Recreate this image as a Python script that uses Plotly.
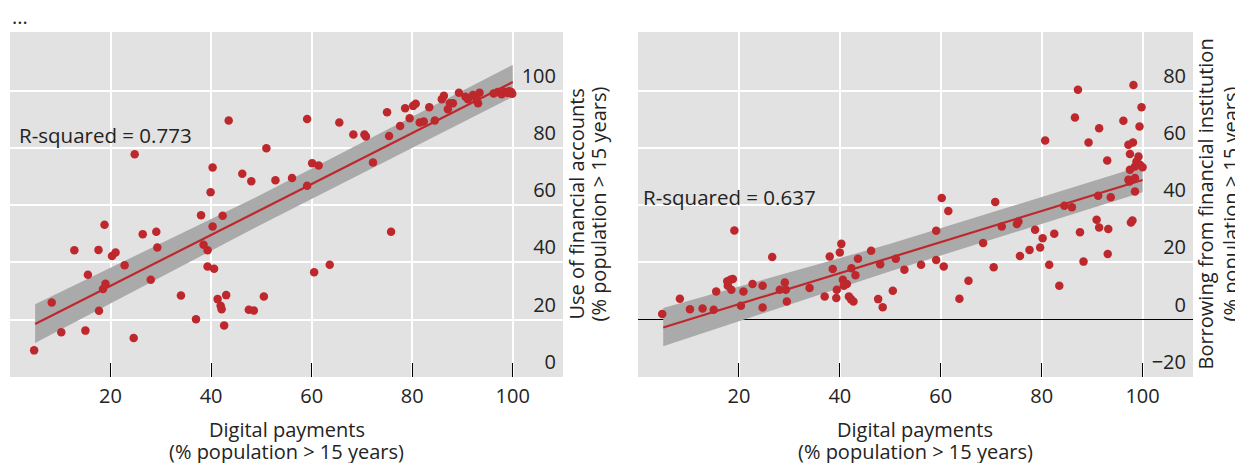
import plotly.graph_objects as go

# ---------------- data ----------------
left_x = [4.8, 8.3, 10.2, 12.8, 15.0, 15.5, 17.6, 17.7, 18.5, 19.0, 18.8, 20.3, 21.0, 22.8,
          24.6, 24.8, 26.4, 28.0, 29.1, 29.3, 34.0, 37.0, 38.0, 38.5, 39.3, 39.3, 39.9, 40.3,
          40.3, 40.6, 41.3, 41.9, 42.1, 42.3, 42.6, 43.0, 43.5, 46.2, 47.5, 48.0, 48.5, 50.5,
          51.0, 52.8, 56.1, 59.1, 59.1, 60.1, 61.4, 60.5, 63.6, 65.5, 68.3, 70.5, 70.8, 72.2,
          75.0, 75.4, 75.8, 77.6, 78.6, 79.5, 80.2, 80.7, 81.5, 82.3, 83.4, 84.5, 85.9, 86.3,
          87.1, 87.5, 88.1, 89.3, 90.6, 91.1, 92.1, 92.8, 93.1, 93.4, 96.2, 97.0, 97.8, 98.4,
          99.0, 99.3, 99.7, 99.9]
left_y = [9.3, 26.0, 15.6, 44.3, 16.2, 35.7, 44.4, 23.1, 30.7, 32.6, 53.2, 42.3, 43.5, 39.0,
          13.6, 77.8, 49.9, 34.0, 50.7, 45.2, 28.5, 20.2, 56.5, 46.2, 44.3, 38.6, 64.5, 73.2,
          52.6, 37.8, 27.2, 24.9, 23.7, 56.3, 18.0, 28.6, 89.6, 71.0, 23.5, 68.4, 23.2, 28.1,
          79.9, 68.7, 69.5, 90.1, 66.8, 74.7, 73.9, 36.6, 39.2, 88.9, 84.7, 84.7, 84.0, 74.9,
          92.5, 84.2, 50.7, 87.7, 93.9, 90.4, 94.7, 95.4, 88.9, 89.2, 94.2, 89.6, 97.0, 98.2,
          93.5, 95.6, 95.6, 99.3, 97.9, 97.0, 98.5, 96.8, 95.6, 99.3, 99.0, 99.5, 98.8, 99.6,
          99.2, 99.8, 99.5, 98.9]

right_x = [4.8, 8.3, 10.3, 12.8, 15.0, 15.5, 17.7, 18.3, 18.8, 17.8, 18.5, 19.1, 20.4, 20.9,
           22.7, 24.7, 24.7, 26.6, 28.1, 29.1, 29.3, 29.5, 34.0, 37.0, 38.0, 38.6, 39.3, 39.4,
           40.0, 40.3, 40.6, 40.8, 41.4, 41.8, 42.2, 42.7, 42.3, 43.1, 43.6, 46.2, 47.6, 48.0,
           48.5, 50.5, 51.1, 52.8, 56.1, 59.1, 59.1, 60.6, 60.2, 61.5, 63.7, 65.5, 68.4, 70.5,
           70.8, 72.1, 75.1, 75.4, 75.7, 77.6, 78.7, 79.7, 80.2, 81.5, 82.5, 83.5, 84.5, 86.0,
           87.6, 88.3, 90.9, 91.2, 91.4, 93.7, 93.1, 93.2, 97.7, 98.0, 98.5, 97.4, 87.2, 98.2,
           99.8, 86.6, 91.4, 96.2, 99.4, 80.7, 89.3, 97.2, 98.1, 97.5, 93.0, 99.2, 98.8, 99.5,
           98.5, 97.5, 100.0, 97.2, 98.5]
right_y = [2.0, 7.3, 3.7, 3.9, 3.5, 9.9, 13.4, 14.0, 14.2, 11.9, 10.5, 31.2, 4.9, 9.9,
           12.5, 11.9, 4.3, 21.9, 10.5, 13.0, 10.5, 6.4, 11.1, 8.1, 22.1, 17.7, 7.6, 10.5,
           23.5, 26.5, 14.0, 11.9, 12.5, 8.1, 7.2, 6.4, 18.0, 15.5, 21.3, 24.1, 7.2, 19.4,
           4.4, 10.1, 21.3, 17.5, 19.2, 31.1, 20.9, 18.6, 42.5, 38.0, 7.3, 13.6, 26.8, 18.3,
           41.1, 32.6, 33.4, 34.3, 22.3, 24.4, 31.4, 25.2, 28.5, 19.2, 30.0, 11.9, 39.8, 39.3,
           30.6, 20.3, 34.9, 43.3, 32.2, 42.8, 23.0, 31.7, 34.0, 34.7, 44.8, 48.3, 80.3, 82.0,
           74.2, 70.6, 66.9, 69.5, 67.5, 62.6, 61.9, 61.1, 61.9, 57.9, 55.6, 57.0, 55.3, 54.1,
           53.5, 52.4, 53.3, 48.9, 49.5]

left_fit_x = [5, 100]
left_fit_y = [18.5, 103.0]
left_band_x = [5, 50, 100]
left_band_lo = [11.9, 53.3, 97.8]
left_band_hi = [25.4, 63.7, 109.0]
left_r2 = "R-squared = 0.773"

right_fit_x = [5, 100]
right_fit_y = [-2.7, 48.8]
right_band_x = [5, 50, 100]
right_band_lo = [-9.3, 16.9, 44.5]
right_band_hi = [4.1, 26.5, 53.8]
right_r2 = "R-squared = 0.637"

x_ticks = [0, 20, 40, 60, 80, 100]
x_ticktext = ["", "20", "40", "60", "80", "100"]
left_yticks = [0, 20, 40, 60, 80, 100]
right_yticks = [-20, 0, 20, 40, 60, 80]

x_title = ["Digital payments", "(% population > 15 years)"]
left_ytitle = ["Use of financial accounts", "(% population > 15 years)"]
right_ytitle = ["Borrowing from financial institution", "(% population > 15 years)"]

# ---------------- styling ----------------
FONT = "Open Sans"
RED = "rgb(190,40,45)"
BAND = "rgb(170,170,170)"
BG = "rgb(226,226,226)"
TXT = "rgb(35,35,35)"

W, H = 1235, 455          # page adds an 8px body margin
ML, MR, MT, MB = 2, 50, 24, 86
PW = W - ML - MR

fig = go.Figure()


def add_panel(xs, ys, fx, fy, bx, blo, bhi, xa, ya):
    fig.add_trace(go.Scatter(x=bx + bx[::-1], y=bhi + blo[::-1], fill="toself",
                             fillcolor=BAND, line=dict(width=0), mode="lines",
                             hoverinfo="skip", showlegend=False, xaxis=xa, yaxis=ya))
    fig.add_trace(go.Scatter(x=fx, y=fy, mode="lines", line=dict(color=RED, width=2.2),
                             showlegend=False, xaxis=xa, yaxis=ya))
    fig.add_trace(go.Scatter(x=xs, y=ys, mode="markers",
                             marker=dict(color=RED, size=8.5, line=dict(width=0)),
                             showlegend=False, xaxis=xa, yaxis=ya))


add_panel(left_x, left_y, left_fit_x, left_fit_y, left_band_x, left_band_lo, left_band_hi, "x", "y")
add_panel(right_x, right_y, right_fit_x, right_fit_y, right_band_x, right_band_lo, right_band_hi, "x2", "y2")

xcommon = dict(range=[0, 110], tickvals=x_ticks, ticktext=x_ticktext, ticks="inside",
               ticklen=14, tickwidth=1.3, tickcolor="black", showgrid=True,
               gridcolor="white", gridwidth=2, zeroline=False, showline=False,
               tickfont=dict(family=FONT, size=20, color=TXT), ticklabelstandoff=5)
ycommon = dict(side="right", ticklabelposition="inside", ticks="", showgrid=True,
               gridcolor="white", gridwidth=2, showline=False, ticklabelshift=-15,
               ticklabelstandoff=4, tickfont=dict(family=FONT, size=20, color=TXT))

fig.update_layout(
    width=W, height=H,
    margin=dict(l=ML, r=MR, t=MT, b=MB),
    paper_bgcolor="white", plot_bgcolor=BG,
    font=dict(family=FONT, size=20, color=TXT),
    showlegend=False,
    xaxis=dict(domain=[0, 553 / PW], anchor="y", **xcommon),
    yaxis=dict(anchor="x", range=[0, 120.5], tickvals=left_yticks, zeroline=False, **ycommon),
    xaxis2=dict(domain=[628 / PW, 1.0], anchor="y2", **xcommon),
    yaxis2=dict(anchor="x2", range=[-20, 100.5], tickvals=right_yticks, zeroline=True,
                zerolinecolor="black", zerolinewidth=1.3, **ycommon),
)

ann = []
# top-left ellipsis
ann.append(dict(text="...", xref="paper", yref="paper", x=0.0, y=1.0, yshift=16,
                xanchor="left", yanchor="middle", showarrow=False,
                font=dict(family=FONT, size=20, color=TXT)))
# R-squared labels
ann.append(dict(text=left_r2, xref="x", yref="y", x=1.4, y=84.6, xanchor="left",
                yanchor="middle", showarrow=False, font=dict(family=FONT, size=20.5, color=TXT)))
ann.append(dict(text=right_r2, xref="x2", yref="y2", x=0.6, y=43.0, xanchor="left",
                yanchor="middle", showarrow=False, font=dict(family=FONT, size=20.5, color=TXT)))
# x titles (two lines each)
for xc in [553 / PW / 2, (628 / PW + 1.0) / 2]:
    for i, line in enumerate(x_title):
        ann.append(dict(text=line, xref="paper", yref="paper", x=xc, y=0,
                        yshift=-(52 + 22 * i), xanchor="center", yanchor="middle",
                        showarrow=False, font=dict(family=FONT, size=20, color=TXT)))
# y titles (two lines each, rotated), positions in figure pixels
for xpixs, lines in [((568, 590), left_ytitle), ((1197, 1222), right_ytitle)]:
    for xpix, line in zip(xpixs, lines):
        ann.append(dict(text=line, xref="paper", yref="paper", x=(xpix - ML) / PW, y=0.5,
                        xanchor="center", yanchor="middle", textangle=-90,
                        showarrow=False, font=dict(family=FONT, size=20, color=TXT)))
fig.update_layout(annotations=ann)

fig.write_html("out.html")
